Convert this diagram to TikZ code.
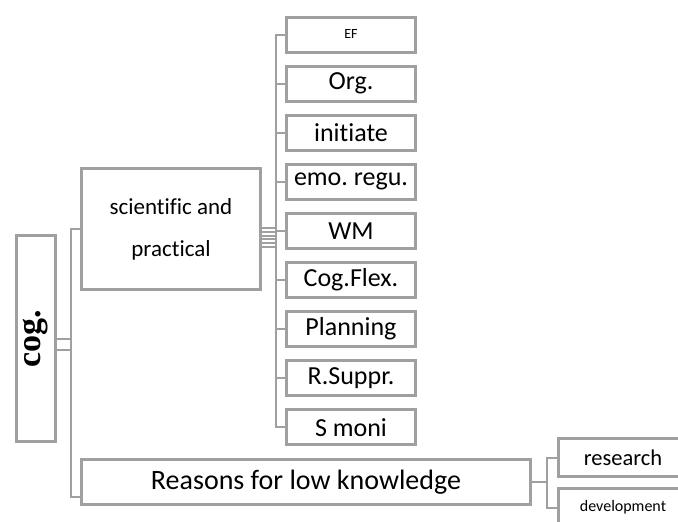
\documentclass[tikz,border=0pt]{standalone}
\usepackage{fontspec}
\setmainfont{Carlito}[Ligatures=NoCommon]
\newfontfamily\cogfont{Liberation Serif}
\usepackage{tikz}
\frenchspacing
\definecolor{boxgray}{RGB}{160,160,160}
\tikzset{
  bx/.style = {draw=boxgray, line width=3pt, align=center, inner sep=0pt},
  lf/.style = {bx, minimum width=129pt, minimum height=35pt, font=\fontsize{26}{28}\selectfont},% petites boites a droite
  cn/.style = {draw=boxgray, line width=2pt}
}

\begin{document}
\begin{tikzpicture}[x=1pt,y=-1pt]
\useasboundingbox (0,0) rectangle (678,522);
\clip (0,0) rectangle (678,522);
\node [bx, minimum width=39pt, minimum height=206pt] (cog) at (36,338.5)
    {\rotatebox{90}{\cogfont\bfseries\fontsize{34}{36}\selectfont cog.}};
\node [bx, minimum width=179pt, minimum height=121pt, font=\fontsize{23}{42}\selectfont] (sci) at (171,229)
    {scientific and\\practical};
\node [bx, minimum width=449pt, minimum height=45pt, font=\fontsize{28}{30}\selectfont] (reasons) at (306,482)
    {Reasons for low knowledge};

\node [lf, font=\fontsize{14}{16}\selectfont] (ef) at (351,34.5) {EF};
\node [lf] (org) at (351,83.6) {Org.};
\node [lf] (init) at (351,132.7) {initiate};
\node [lf] (emo) at (351,181.8) {emo. regu.};
\node [lf] (wm) at (351,230.9) {WM};
\node [lf] (cogflex) at (351,280) {Cog.Flex.};
\node [lf] (plan) at (351,329.1) {Planning};
\node [lf] (rsup) at (351,378.2) {R.Suppr.};
\node [lf] (smoni) at (351,427.3) {S moni};

\node [lf, minimum height=38pt, font=\fontsize{22.5}{24}\selectfont] (research) at (623,457.5) {research};
\node [lf, minimum height=38pt, font=\fontsize{16}{18}\selectfont] (devel) at (623,507.5) {development};

\draw [cn] ([yshift=-11pt]cog.east) -- ++(13.5,0) |- (sci.west);
\draw [cn] (cog.east) -- ++(13.5,0) |- ([yshift=-15pt]reasons.west);

\draw [cn] ([yshift=1pt]sci.east) -- ++(13.5,0) |- (ef.west);
\draw [cn] ([yshift=-2.8pt]sci.east) -- ++(13.5,0) |- (org.west);
\draw [cn] ([yshift=-6.6pt]sci.east) -- ++(13.5,0) |- (init.west);
\draw [cn] ([yshift=-10.4pt]sci.east) -- ++(13.5,0) |- (emo.west);
\draw [cn] ([yshift=-14.2pt]sci.east) -- ++(13.5,0) |- (wm.west);
\draw [cn] ([yshift=-14.2pt]sci.east) -- ++(13.5,0) |- (cogflex.west);
\draw [cn] ([yshift=-18pt]sci.east) -- ++(13.5,0) |- (plan.west);
\draw [cn] ([yshift=-18pt]sci.east) -- ++(13.5,0) |- (rsup.west);
\draw [cn] ([yshift=-18pt]sci.east) -- ++(13.5,0) |- (smoni.west);

\draw [cn] (reasons.east) -- ++(14.5,0) |- (research.west);
\draw [cn] (reasons.east) -- ++(14.5,0) |- (devel.west);
\end{tikzpicture}
\end{document}
